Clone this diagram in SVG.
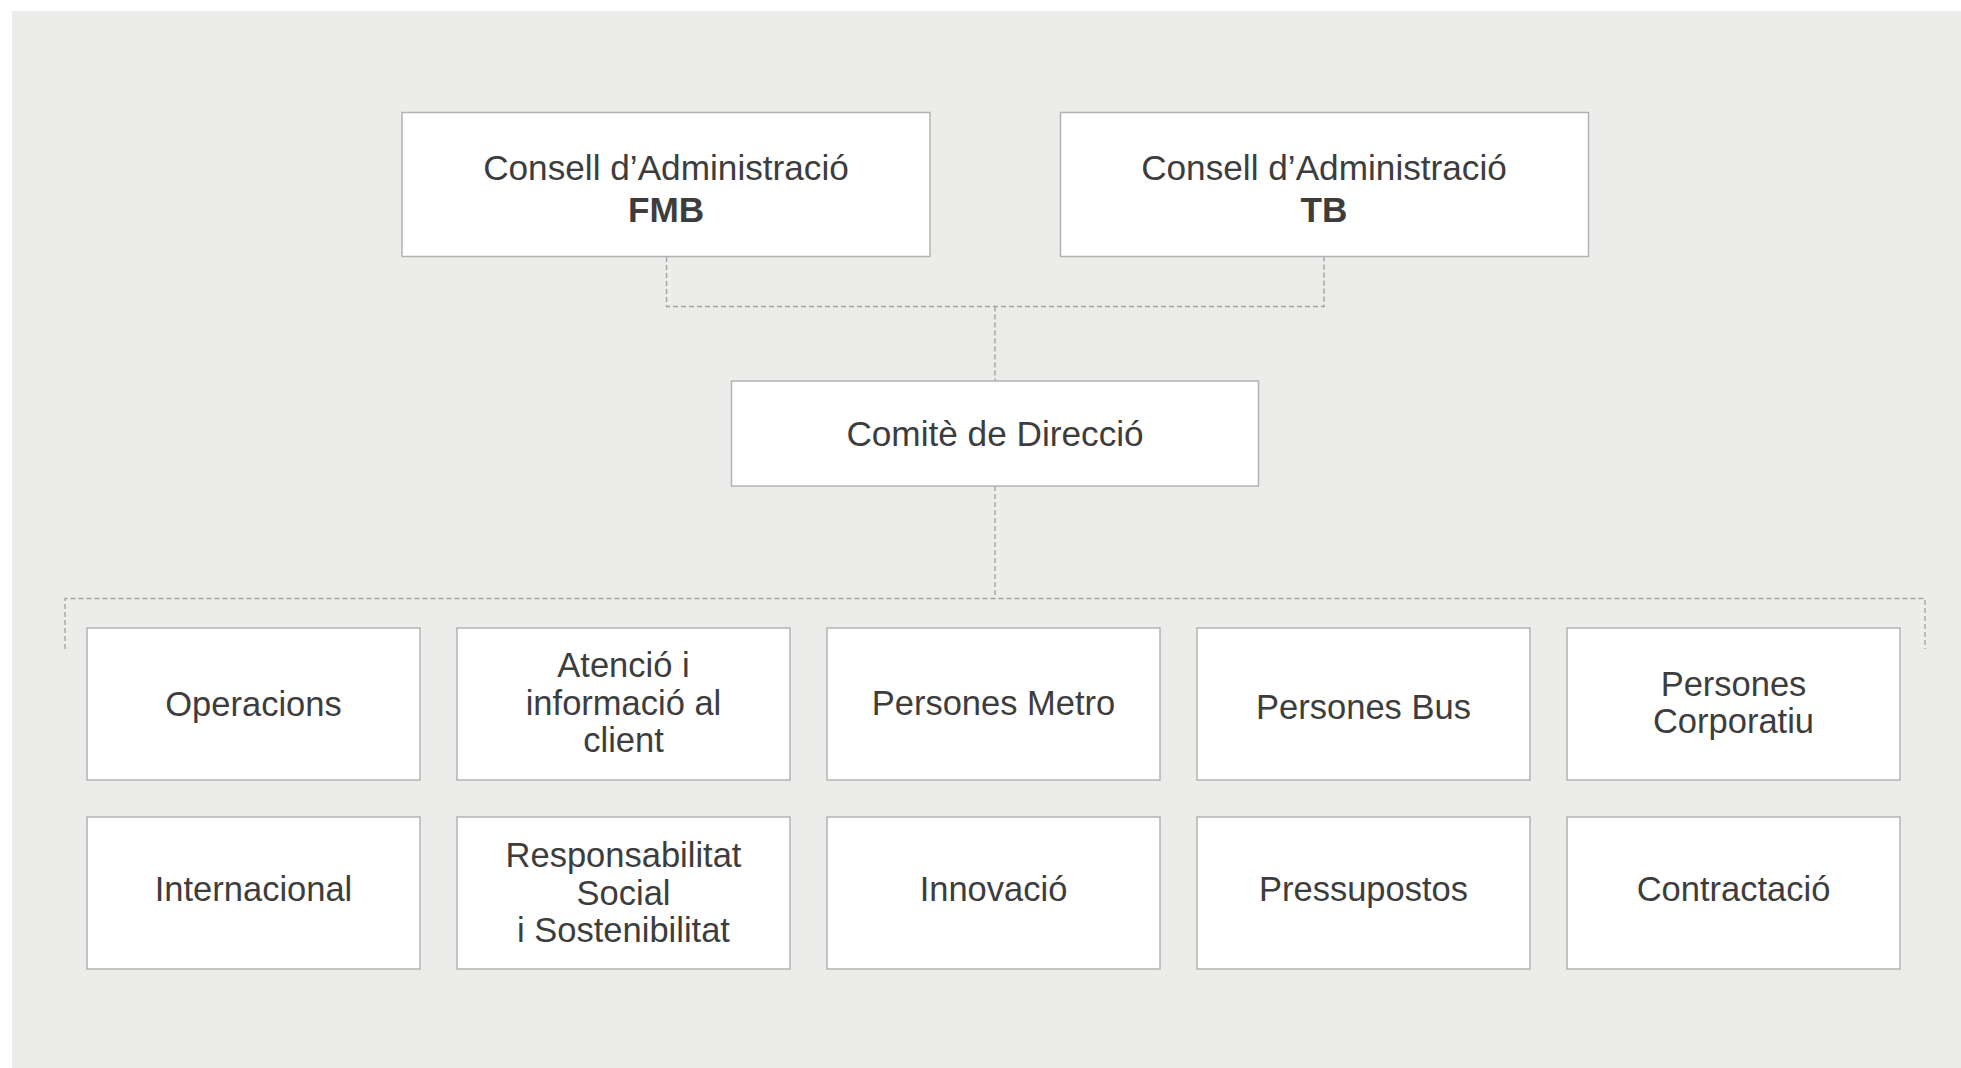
<svg xmlns="http://www.w3.org/2000/svg" width="1961" height="1068" viewBox="0 0 1961 1068">
<style>
.box{fill:#ffffff;stroke:#b3b3b3;stroke-width:1.5}
.lbl{font-family:"Liberation Sans",Arial,Helvetica,sans-serif;font-size:34.5px;fill:#3d3d3d;text-anchor:middle}
.t{font-size:35.2px}
.b{font-weight:bold}
.con{fill:none;stroke:#a3a3a3;stroke-width:1.4;stroke-dasharray:5 3}
</style>
<rect x="12" y="11" width="1949" height="1057" fill="#ececea"/>
<g id="connectors">
<path class="con" d="M666.5 257 V306.5 H1324 V257"/>
<path class="con" d="M995 306.5 V381"/>
<path class="con" d="M995 486 V598.5"/>
<path class="con" d="M65 649 V598.5 H1925 V649"/>
</g>
<g id="fmb"><rect class="box" x="402" y="112.5" width="528" height="144"/><text class="lbl t" x="666" y="180">Consell d’Administració</text><text class="lbl t b" x="666" y="222">FMB</text></g>
<g id="tb"><rect class="box" x="1060.5" y="112.5" width="528" height="144"/><text class="lbl t" x="1324" y="180">Consell d’Administració</text><text class="lbl t b" x="1324" y="222">TB</text></g>
<g id="comite"><rect class="box" x="731.5" y="381" width="527" height="105"/><text class="lbl t" x="995" y="446">Comitè de Direcció</text></g>
<g id="operacions"><rect class="box" x="87" y="628" width="333" height="152"/><text class="lbl" x="253.5" y="716">Operacions</text></g>
<g id="atencio"><rect class="box" x="457" y="628" width="333" height="152"/><text class="lbl" x="623.5" y="677">Atenció i</text><text class="lbl" x="623.5" y="714.5">informació al</text><text class="lbl" x="623.5" y="752">client</text></g>
<g id="persones-metro"><rect class="box" x="827" y="628" width="333" height="152"/><text class="lbl" x="993.5" y="715">Persones Metro</text></g>
<g id="persones-bus"><rect class="box" x="1197" y="628" width="333" height="152"/><text class="lbl" x="1363.5" y="719">Persones Bus</text></g>
<g id="persones-corporatiu"><rect class="box" x="1567" y="628" width="333" height="152"/><text class="lbl" x="1733.5" y="696">Persones</text><text class="lbl" x="1733.5" y="733">Corporatiu</text></g>
<g id="internacional"><rect class="box" x="87" y="817" width="333" height="152"/><text class="lbl" x="253.5" y="901">Internacional</text></g>
<g id="responsabilitat"><rect class="box" x="457" y="817" width="333" height="152"/><text class="lbl" x="623.5" y="867">Responsabilitat</text><text class="lbl" x="623.5" y="904.5">Social</text><text class="lbl" x="623.5" y="942">i Sostenibilitat</text></g>
<g id="innovacio"><rect class="box" x="827" y="817" width="333" height="152"/><text class="lbl" x="993.5" y="901">Innovació</text></g>
<g id="pressupostos"><rect class="box" x="1197" y="817" width="333" height="152"/><text class="lbl" x="1363.5" y="901">Pressupostos</text></g>
<g id="contractacio"><rect class="box" x="1567" y="817" width="333" height="152"/><text class="lbl" x="1733.5" y="901">Contractació</text></g>
</svg>
